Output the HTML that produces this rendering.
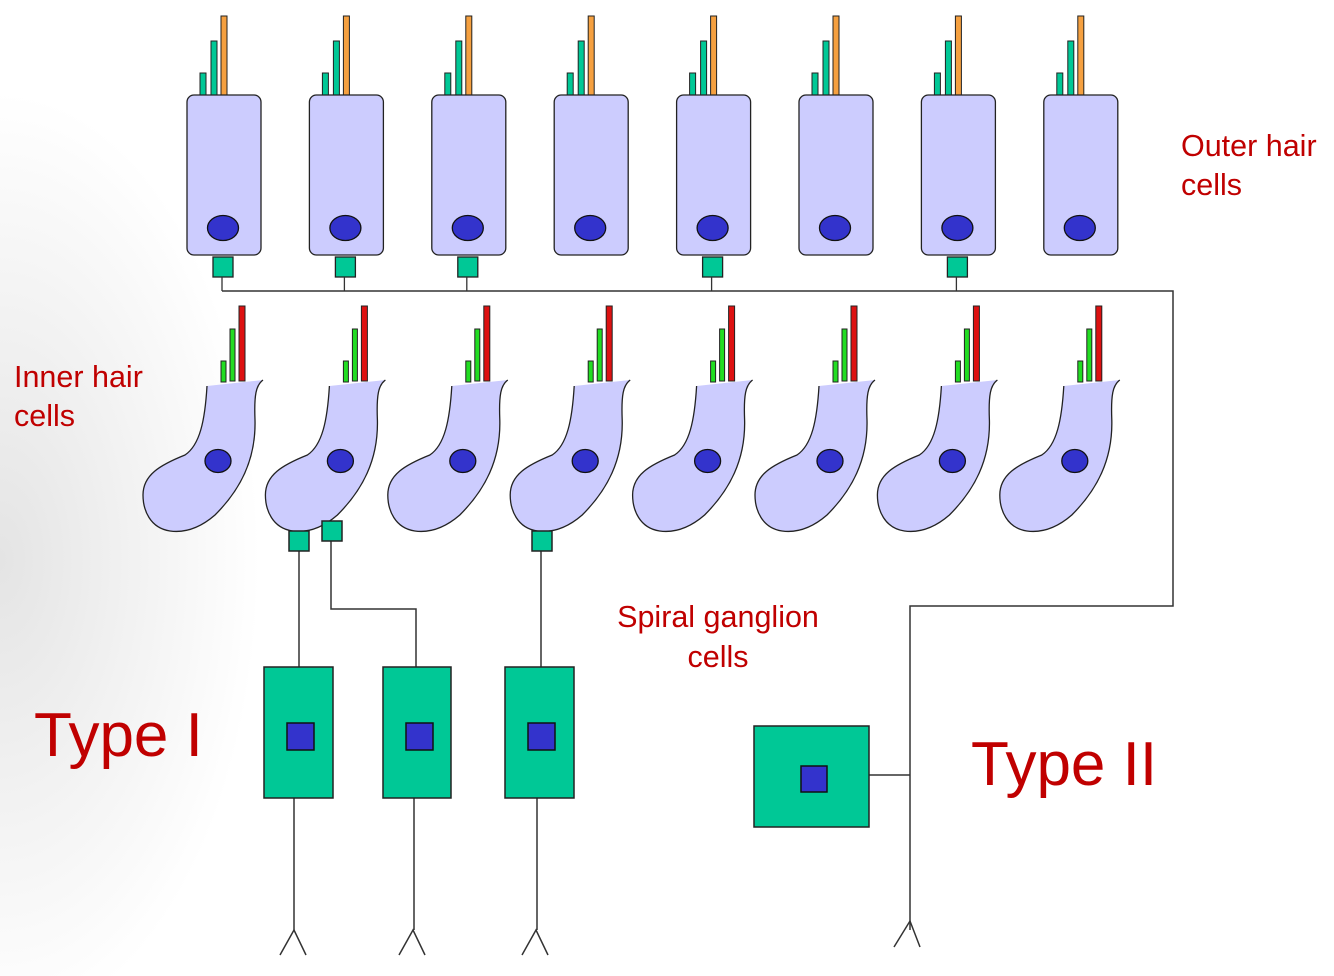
<!DOCTYPE html>
<html><head><meta charset="utf-8"><style>
html,body{margin:0;padding:0;width:1334px;height:976px;overflow:hidden;background:#fff}
svg{display:block}
text{font-family:"Liberation Sans",sans-serif;fill:#c00000}
</style></head><body>
<svg width="1334" height="976" viewBox="0 0 1334 976" xmlns="http://www.w3.org/2000/svg">
<defs>
<radialGradient id="bg" cx="0" cy="560" r="260" gradientUnits="userSpaceOnUse" gradientTransform="translate(0,560) scale(1,1.8) translate(0,-560)">
<stop offset="0" stop-color="#e4e4e4"/><stop offset="1" stop-color="#ffffff"/></radialGradient>
<g id="ohc">
<rect x="200" y="73" width="6" height="24" fill="#00c896" stroke="#222" stroke-width="1"/>
<rect x="211" y="41" width="6" height="56" fill="#00c896" stroke="#222" stroke-width="1"/>
<rect x="221" y="16" width="6" height="81" fill="#f5a040" stroke="#222" stroke-width="1"/>
<rect x="187" y="95" width="74" height="160" rx="7" fill="#ccccfe" stroke="#222" stroke-width="1.3"/>
<ellipse cx="223" cy="228" rx="15.5" ry="12.5" fill="#3333cc" stroke="#111" stroke-width="1.3"/>
</g>
<g id="ohs">
<rect x="213" y="257" width="20" height="20" fill="#00c896" stroke="#222" stroke-width="1.3"/>
<line x1="222" y1="277" x2="222" y2="291" stroke="#333" stroke-width="1.3"/>
</g>
<g id="ihc">
<rect x="221" y="361" width="5" height="21" fill="#22dd22" stroke="#222" stroke-width="1"/>
<rect x="230" y="329" width="5" height="52" fill="#22dd22" stroke="#222" stroke-width="1"/>
<rect x="239" y="306" width="6" height="75" fill="#dd1111" stroke="#222" stroke-width="1"/>
<path d="M207,386 L263,380 C256,385 254,395 255,420 C256,460 240,490 215,515 C200,528 185,533 170,531 C150,528 143,510 143,495 C143,475 160,465 185,455 C200,445 205,420 207,386 Z" fill="#ccccfe" stroke="none"/>
<path d="M263,380 C256,385 254,395 255,420 C256,460 240,490 215,515 C200,528 185,533 170,531 C150,528 143,510 143,495 C143,475 160,465 185,455 C200,445 205,420 207,386" fill="none" stroke="#222" stroke-width="1.3"/>
<ellipse cx="218" cy="461" rx="13" ry="11.5" fill="#3333cc" stroke="#111" stroke-width="1.3"/>
</g>
</defs>
<rect width="1334" height="976" fill="url(#bg)"/>
<g>
<use href="#ohc"/>
<use href="#ohc" transform="translate(122.4,0)"/>
<use href="#ohc" transform="translate(244.8,0)"/>
<use href="#ohc" transform="translate(367.2,0)"/>
<use href="#ohc" transform="translate(489.6,0)"/>
<use href="#ohc" transform="translate(612,0)"/>
<use href="#ohc" transform="translate(734.4,0)"/>
<use href="#ohc" transform="translate(856.8,0)"/>
<use href="#ohs"/>
<use href="#ohs" transform="translate(122.4,0)"/>
<use href="#ohs" transform="translate(244.8,0)"/>
<use href="#ohs" transform="translate(489.6,0)"/>
<use href="#ohs" transform="translate(734.4,0)"/>
</g>
<g>
<use href="#ihc"/>
<use href="#ihc" transform="translate(122.4,0)"/>
<use href="#ihc" transform="translate(244.8,0)"/>
<use href="#ihc" transform="translate(367.2,0)"/>
<use href="#ihc" transform="translate(489.6,0)"/>
<use href="#ihc" transform="translate(612,0)"/>
<use href="#ihc" transform="translate(734.4,0)"/>
<use href="#ihc" transform="translate(856.8,0)"/>
</g>
<g fill="none" stroke="#333" stroke-width="1.5">
<polyline points="222,291 1173,291 1173,606 910,606 910,930"/>
<polyline points="894,947 910,921 920,947"/>
<line x1="869" y1="775" x2="910" y2="775"/>
<line x1="299" y1="551" x2="299" y2="667"/>
<polyline points="331,541 331,609 416,609 416,667"/>
<line x1="541" y1="551" x2="541" y2="667"/>
<line x1="294" y1="798" x2="294" y2="930"/>
<line x1="414" y1="798" x2="414" y2="930"/>
<line x1="537" y1="798" x2="537" y2="930"/>
<polyline points="280,955 294,930 306,955"/>
<polyline points="399,955 413,930 425,955"/>
<polyline points="522,955 536,930 548,955"/>
</g>
<g fill="#00c896" stroke="#222" stroke-width="1.5">
<rect x="289" y="531" width="20" height="20"/>
<rect x="322" y="521" width="20" height="20"/>
<rect x="532" y="531" width="20" height="20"/>
<rect x="264" y="667" width="69" height="131"/>
<rect x="383" y="667" width="68" height="131"/>
<rect x="505" y="667" width="69" height="131"/>
<rect x="754" y="726" width="115" height="101"/>
</g>
<g fill="#3333cc" stroke="#111" stroke-width="1.5">
<rect x="287" y="723" width="27" height="27"/>
<rect x="406" y="723" width="27" height="27"/>
<rect x="528" y="723" width="27" height="27"/>
<rect x="801" y="766" width="26" height="26"/>
</g>
<text x="1181" y="156" font-size="30.5">Outer hair</text>
<text x="1181" y="195" font-size="30.5">cells</text>
<text x="14" y="387" font-size="30.5">Inner hair</text>
<text x="14" y="426" font-size="30.5">cells</text>
<text x="718" y="627" font-size="30.5" text-anchor="middle">Spiral ganglion</text>
<text x="718" y="667" font-size="30.5" text-anchor="middle">cells</text>
<text x="34" y="756" font-size="62">Type I</text>
<text x="971" y="785" font-size="62">Type II</text>
</svg>
</body></html>
